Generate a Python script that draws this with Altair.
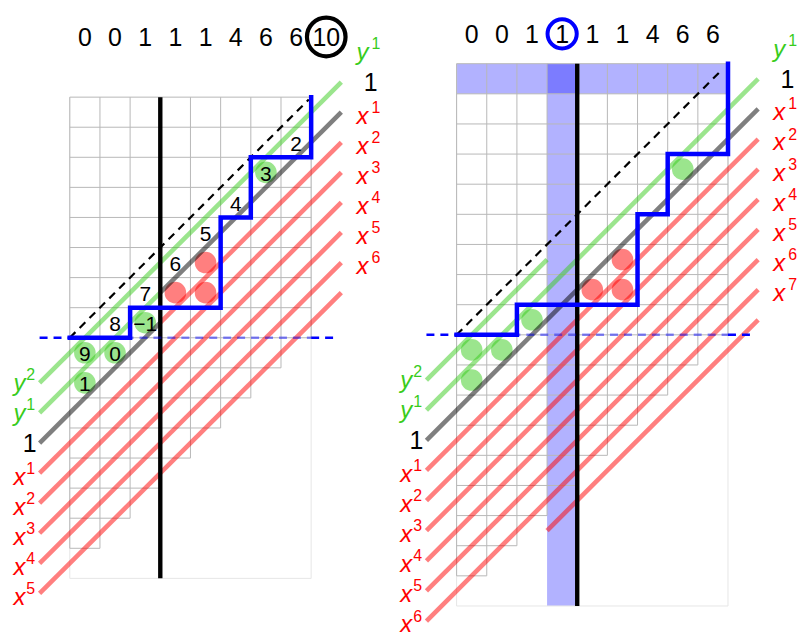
import altair as alt
import pandas as pd

# ---------------- values (cell units) ----------------
left_ncols, left_nrows = 8, 16
right_ncols, right_nrows = 9, 18

left_top_numbers = ["0", "0", "1", "1", "1", "4", "6", "6", "10"]
right_top_numbers = ["0", "0", "1", "1", "1", "1", "4", "6", "6"]
left_circled_index = 8
right_circled_index = 3

left_path_cols = [0, 2, 2, 5, 5, 6, 6, 8, 8]
left_path_rows = [8, 8, 7, 7, 4, 4, 2, 2, 0]
right_path_cols = [0, 2, 2, 6, 6, 7, 7, 9, 9]
right_path_rows = [9, 9, 8, 8, 5, 5, 3, 3, 0]

left_green_cols = [0, 1, 0, 2, 6]
left_green_rows = [8, 8, 9, 7, 2]
left_red_cols = [3, 4, 4]
left_red_rows = [6, 6, 5]
right_green_cols = [0, 1, 0, 2, 7]
right_green_rows = [9, 9, 10, 8, 3]
right_red_cols = [4, 5, 5]
right_red_rows = [7, 7, 6]

left_cell_texts = ["2", "3", "4", "5", "6", "7", "8", "\u22121", "9", "0", "1"]
left_cell_cols = [7, 6, 5, 4, 3, 2, 1, 2, 0, 1, 0]
left_cell_rows = [1, 2, 3, 4, 5, 6, 7, 7, 8, 8, 9]

left_black_col = 3
right_black_col = 4
right_shade_col = 3
right_shade_row = 0
left_dash_row = 8
right_dash_row = 9
left_dash_end = 8.75
right_dash_end = 9.8
left_diag_dash = [0, 8, 7.92, 0.08]
right_diag_dash = [0, 9, 8.75, 0.25]

left_in_labels = ["y2", "y1", "1", "x1", "x2", "x3", "x4", "x5"]
left_out_labels = ["y1", "1", "x1", "x2", "x3", "x4", "x5", "x6"]
right_in_labels = ["y2", "y1", "1", "x1", "x2", "x3", "x4", "x5", "x6"]
right_out_labels = ["y1", "1", "x1", "x2", "x3", "x4", "x5", "x6", "x7"]

# ---------------- styling ----------------
GREEN = "#38cc1c"
RED = "#ff0000"
BLACK = "#000000"
BLUE = "#0000ff"
GRID = "#b8b8b8"
FRAME = "#e6e6e6"
FONT = "Liberation Sans"
H = 626


def color_of(label):
    return {"y": GREEN, "x": RED, "1": BLACK}[label[0]]


def make_panel(p):
    nc, nr = p["ncols"], p["nrows"]
    xs = alt.Scale(domain=p["xdom"], nice=False, zero=False)
    ys = alt.Scale(domain=p["ydom"], nice=False, zero=False, reverse=True)

    def XY():
        return dict(x=alt.X("x:Q", scale=xs, axis=None),
                    y=alt.Y("y:Q", scale=ys, axis=None))

    def seg(rows, color_field=False, **mark):
        enc = XY()
        enc.update(x2="x2:Q", y2="y2:Q")
        if color_field:
            enc["color"] = alt.Color("c:N", scale=None)
        return alt.Chart(pd.DataFrame(rows)).mark_rule(**mark).encode(**enc)

    def texts(rows, **mark):
        enc = XY()
        enc.update(text="t:N", color=alt.Color("c:N", scale=None))
        return alt.Chart(pd.DataFrame(rows)).mark_text(
            font=FONT, baseline="alphabetic", **mark).encode(**enc)

    layers = []
    # blue shading
    if p.get("shade") is not None:
        sc, sr = p["shade"]
        rects = [dict(x=0, x2=nc, y=sr, y2=sr + 1), dict(x=sc, x2=sc + 1, y=0, y2=nr)]
        enc = XY()
        enc.update(x2="x2:Q", y2="y2:Q")
        layers.append(alt.Chart(pd.DataFrame(rects)).mark_rect(
            color=BLUE, opacity=0.3).encode(**enc))

    # frame and grid
    frame = [dict(x=0, x2=nc, y=nr, y2=nr), dict(x=nc, x2=nc, y=0, y2=nr),
             dict(x=0, x2=0, y=0, y2=nr)]
    layers.append(seg(frame, color=FRAME, strokeWidth=1))
    grid = []
    for b in range(nr + 1):
        ln = min(nc, nr - b)
        if ln > 0:
            grid.append(dict(x=0, x2=ln, y=b, y2=b))
    for c in range(nc + 1):
        grid.append(dict(x=c, x2=c, y=0, y2=nr - max(c, 1)))
    layers.append(seg(grid, color=GRID, strokeWidth=1))

    # filled discs
    discs = [dict(x=c + 0.5, y=r + 0.5, c=GREEN) for c, r in zip(*p["greens"])]
    discs += [dict(x=c + 0.5, y=r + 0.5, c=RED) for c, r in zip(*p["reds"])]
    enc = XY()
    enc["color"] = alt.Color("c:N", scale=None)
    layers.append(alt.Chart(pd.DataFrame(discs)).mark_circle(
        size=470, opacity=0.5).encode(**enc))

    # diagonal strands
    half = nr / 2 + 0.5
    x0, x1, sw = -1, nc + 1, p["switch"]
    inl, outl, sh = p["in_labels"], p["out_labels"], p["shift"]
    strands = []
    n = max(len(inl), len(outl) + sh)
    for k in range(n):
        cin = color_of(inl[k]) if k < len(inl) else None
        j = k - sh
        cout = color_of(outl[j]) if 0 <= j < len(outl) else None
        if cin is not None and cin == cout:
            parts = [(x0, x1, cin)]
        else:
            parts = []
            if cin is not None:
                parts.append((x0, sw, cin))
            if cout is not None:
                parts.append((sw, x1, cout))
        for a, b, col in parts:
            strands.append(dict(x=a, x2=b, y=half + k - a, y2=half + k - b, c=col))
    layers.append(seg(strands, color_field=True, strokeWidth=4.6, opacity=0.5,
                      strokeCap="butt"))

    # black vertical line
    bc = p["black_col"]
    layers.append(seg([dict(x=bc, x2=bc, y=0, y2=nr)], color=BLACK,
                      strokeWidth=4.4, strokeCap="butt"))

    # dashed lines
    dr, de = p["dash_row"], p["dash_end"]
    layers.append(seg([dict(x=-1, x2=0, y=dr, y2=dr), dict(x=nc, x2=de, y=dr, y2=dr)],
                      color=BLUE, strokeWidth=2.5, strokeDash=[8, 6]))
    layers.append(seg([dict(x=0, x2=nc, y=dr, y2=dr)], color=BLUE, strokeWidth=2.5,
                      strokeDash=[8, 6], opacity=0.45))
    a, b, c2, d = p["diag_dash"]
    layers.append(seg([dict(x=a, y=b, x2=c2, y2=d)], color=BLACK, strokeWidth=2.2,
                      strokeDash=[8, 6]))

    # blue staircase path
    path = [dict(x=c, y=r, o=i) for i, (c, r) in enumerate(zip(*p["path"]))]
    enc = XY()
    enc["order"] = alt.Order("o:Q")
    layers.append(alt.Chart(pd.DataFrame(path)).mark_line(
        color=BLUE, strokeWidth=4.5, strokeJoin="miter", strokeCap="square").encode(**enc))

    # top numbers and ring
    tc = p["top_center"]
    tops = [dict(x=i + 0.5, y=tc + 0.3, t=s, c=BLACK) for i, s in enumerate(p["top"])]
    layers.append(texts(tops, fontSize=25, align="center"))
    ci = p["circled"]
    enc = XY()
    layers.append(alt.Chart(pd.DataFrame([dict(x=ci + 0.5, y=tc)])).mark_point(
        shape="circle", filled=False, size=p["ring_size"], strokeWidth=p["ring_w"],
        color=p["ring_color"], opacity=1).encode(**enc))

    # cell numbers
    if p["cell_texts"]:
        ct = [dict(x=c + 0.5, y=r + 0.78, t=s, c=BLACK)
              for s, c, r in zip(p["cell_texts"], *p["cell_pos"])]
        layers.append(texts(ct, fontSize=21, align="center"))

    # strand labels
    off = {"x": 0.38, "y": 0.27, "1": 0.30}
    ital_r, ital_l, sups, one_r, one_c = [], [], [], [], []
    for k, lab in enumerate(inl):
        base, sup = lab[0], lab[1:]
        bl = half + 1 + k + off[base]
        col = color_of(lab)
        if base == "1":
            one_r.append(dict(x=-1.1, y=bl, t="1", c=col))
        else:
            ital_r.append(dict(x=-1.47, y=bl, t=base, c=col))
            sups.append(dict(x=-1.44, y=bl - 0.36, t=sup, c=col))
    for j, lab in enumerate(outl):
        k = j + sh
        base, sup = lab[0], lab[1:]
        bl = half + k - (nc + 1) - 1 + off[base]
        col = color_of(lab)
        if base == "1":
            one_c.append(dict(x=nc + 1.97, y=bl, t="1", c=col))
        else:
            ital_l.append(dict(x=nc + 1.5, y=bl, t=base, c=col))
            sups.append(dict(x=nc + 2.0, y=bl - 0.36, t=sup, c=col))
    layers.append(texts(ital_r, fontSize=24, fontStyle="italic", align="right"))
    layers.append(texts(ital_l, fontSize=24, fontStyle="italic", align="left"))
    layers.append(texts(sups, fontSize=16, align="left"))
    layers.append(texts(one_r, fontSize=25, align="right"))
    layers.append(texts(one_c, fontSize=25, align="center"))

    return alt.layer(*layers).properties(width=p["width"], height=H)


left = dict(
    ncols=left_ncols, nrows=left_nrows, width=390,
    xdom=[-2.047, 10.829], ydom=[-2.858, 17.877],
    shade=None, greens=(left_green_cols, left_green_rows),
    reds=(left_red_cols, left_red_rows), switch=left_black_col,
    in_labels=left_in_labels, out_labels=left_out_labels, shift=0,
    black_col=left_black_col, dash_row=left_dash_row, dash_end=left_dash_end,
    diag_dash=left_diag_dash, path=(left_path_cols, left_path_rows),
    top=left_top_numbers, top_center=-2.0, circled=left_circled_index,
    ring_size=1500, ring_w=4.2, ring_color=BLACK,
    cell_texts=left_cell_texts, cell_pos=(left_cell_cols, left_cell_rows),
)
right = dict(
    ncols=right_ncols, nrows=right_nrows, width=400,
    xdom=[-1.992, 11.222], ydom=[-1.743, 18.958],
    shade=(right_shade_col, right_shade_row),
    greens=(right_green_cols, right_green_rows),
    reds=(right_red_cols, right_red_rows), switch=right_shade_col,
    in_labels=right_in_labels, out_labels=right_out_labels, shift=1,
    black_col=right_black_col, dash_row=right_dash_row, dash_end=right_dash_end,
    diag_dash=right_diag_dash, path=(right_path_cols, right_path_rows),
    top=right_top_numbers, top_center=-0.99, circled=right_circled_index,
    ring_size=860, ring_w=4.0, ring_color=BLUE,
    cell_texts=[], cell_pos=([], []),
)

chart = alt.hconcat(
    make_panel(left), make_panel(right), spacing=0, bounds="flush", padding=0,
).configure_view(stroke=None)

chart.save("out.html", embed_options={"renderer": "svg", "actions": False})
